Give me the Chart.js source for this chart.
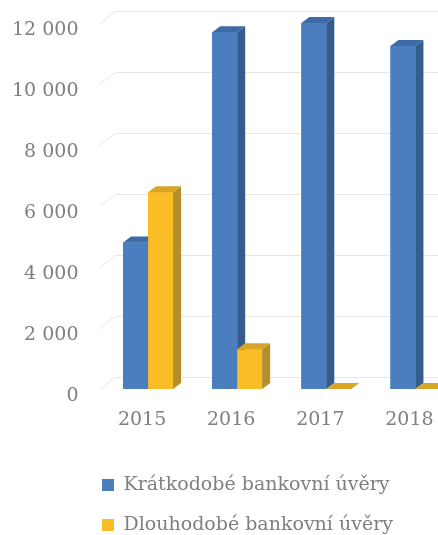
<!DOCTYPE html>
<html>
<head>
<meta charset="utf-8">
<script src="https://cdn.jsdelivr.net/npm/chart.js"></script>
<style>
  html, body { margin: 0; padding: 0; overflow: hidden; background: #fff; }
  #wrap { width: 470px; height: 535px; }
</style>
</head>
<body>
<div id="wrap"><canvas id="myChart"></canvas></div>
<script>
// data
const years = ['2015', '2016', '2017', '2018'];
const shortTerm = [4800, 11700, 12000, 11250];
const longTerm = [6450, 1300, 0, 0];
const seriesNames = ['Krátkodobé bankovní úvěry', 'Dlouhodobé bankovní úvěry'];
const yTickLabels = ['0', '2 000', '4 000', '6 000', '8 000', '10 000', '12 000'];

// colours for the fake 3D faces: front, side, top
const faces = [
  ['#4a7ebf', '#345d8e', '#3d6ba5'],
  ['#fbbd25', '#b58d2c', '#d9a526']
];
const depth = {dx: 8, dy: 6};
const wall = {dx: 16, dy: 12};
const textGray = '#7f7f7f';
const font = {family: 'DejaVu Serif', size: 19};

// back-wall gridlines, drawn like the 3D chart does
const wallGrid = {
  id: 'wallGrid',
  beforeDatasetsDraw(chart) {
    const {ctx, chartArea, scales: {y}} = chart;
    ctx.save();
    ctx.strokeStyle = '#e6e6e6';
    ctx.lineWidth = 1;
    y.ticks.forEach(t => {
      const py = Math.round(y.getPixelForValue(t.value)) + 0.5;
      ctx.beginPath();
      ctx.moveTo(chartArea.left - 4, py);
      ctx.lineTo(chartArea.left - 4 + wall.dx, py - wall.dy);
      ctx.lineTo(chartArea.right + 20, py - wall.dy);
      ctx.stroke();
    });
    ctx.restore();
  }
};

// side and top faces on each bar, taken from the bar elements
const bars3d = {
  id: 'bars3d',
  afterDatasetsDraw(chart) {
    const ctx = chart.ctx;
    const n = chart.data.labels.length;
    ctx.save();
    for (let i = 0; i < n; i++) {
      chart.data.datasets.forEach((ds, d) => {
        const el = chart.getDatasetMeta(d).data[i];
        const {x, y, base, width} = el.getProps(['x', 'y', 'base', 'width'], true);
        const l = x - width / 2, r = x + width / 2;
        const [front, side, top] = faces[d];
        ctx.fillStyle = front;
        ctx.fillRect(l, y, width, base - y);
        ctx.fillStyle = side;
        ctx.beginPath();
        ctx.moveTo(r, y); ctx.lineTo(r + depth.dx, y - depth.dy);
        ctx.lineTo(r + depth.dx, base - depth.dy); ctx.lineTo(r, base);
        ctx.closePath(); ctx.fill();
        ctx.fillStyle = top;
        ctx.beginPath();
        ctx.moveTo(l, y); ctx.lineTo(l + depth.dx, y - depth.dy);
        ctx.lineTo(r + depth.dx, y - depth.dy); ctx.lineTo(r, y);
        ctx.closePath(); ctx.fill();
      });
    }
    ctx.restore();
  }
};

// legend sits a bit right and lower than chart.js would put it
const moveLegend = {
  id: 'moveLegend',
  afterLayout(chart) {
    const lg = chart.legend;
    const dx = 69, dy = 22.5;
    lg.left += dx; lg.right += dx;
    lg.top += dy; lg.bottom += dy;
  }
};

const config = {
  type: 'bar',
  data: {
    labels: years,
    datasets: [{
      label: seriesNames[0],
      data: shortTerm,
      backgroundColor: faces[0][0],
      borderWidth: 0,
      categoryPercentage: 0.56,
      barPercentage: 1
    }, {
      label: seriesNames[1],
      data: longTerm,
      backgroundColor: faces[1][0],
      borderWidth: 0,
      categoryPercentage: 0.56,
      barPercentage: 1
    }]
  },
  options: {
    responsive: true,
    maintainAspectRatio: false,
    animation: false,
    layout: {padding: {left: 12, top: 23, right: 10, bottom: 13}},
    plugins: {
      tooltip: {enabled: false},
      legend: {
        position: 'bottom',
        align: 'start',
        labels: {
          boxWidth: 12,
          boxHeight: 12,
          padding: 21,
          color: textGray,
          font: font
        }
      }
    },
    scales: {
      x: {
        grid: {display: false, drawTicks: false},
        border: {display: false},
        ticks: {color: textGray, font: font, padding: 20, labelOffset: -6, maxRotation: 0},
        afterFit: s => { s.height = 43; s.paddingLeft = 0; s.paddingRight = 0; }
      },
      y: {
        min: 0,
        max: 12000,
        grid: {display: false, drawTicks: false},
        border: {display: false},
        ticks: {
          stepSize: 2000,
          color: textGray,
          font: font,
          padding: 25,
          labelOffset: 7,
          callback: (v, i) => yTickLabels[i]
        },
        afterFit: s => { s.width = 91.5; s.paddingTop = 0; s.paddingBottom = 0; }
      }
    }
  },
  plugins: [wallGrid, bars3d, moveLegend]
};

new Chart(document.getElementById('myChart'), config);
</script>
</body>
</html>
